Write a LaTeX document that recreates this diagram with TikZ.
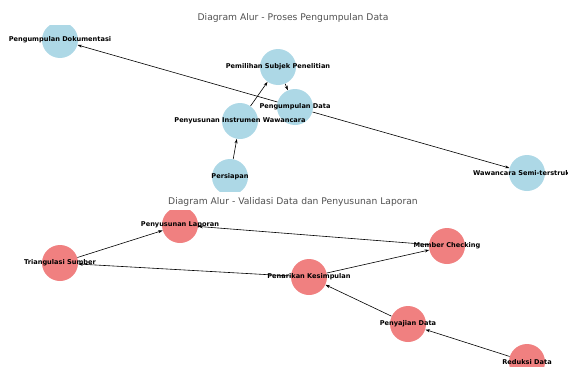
\documentclass[tikz,border=0pt]{standalone}
\usepackage{fontspec}
\setmainfont{DejaVu Sans}
\usetikzlibrary{arrows.meta}
\definecolor{lblue}{RGB}{173,216,230}
\definecolor{lcoral}{RGB}{240,128,128}
\definecolor{titlegray}{RGB}{80,80,80}
\pgfdeclarelayer{bg}
\pgfsetlayers{bg,main}

\begin{document}
\begin{tikzpicture}[x=1pt, y=-1pt,
    vtx/.style={circle, inner sep=0pt, minimum size=36pt,
        label={[font=\fontsize{6.6}{7}\selectfont\bfseries, text=black]center:#1}},
    bnode/.style={vtx=#1, fill=lblue},
    rnode/.style={vtx=#1, fill=lcoral},
    flow/.style={-{Stealth[length=4.5pt, width=3pt]}, line width=0.6pt, black},
    heading/.style={font=\fontsize{9.2}{11}\selectfont, text=titlegray}]
    \useasboundingbox (0,0) rectangle (568,367);

    % proses pengumpulan data
    \node[heading] (t1) at (293,18) {Diagram Alur - Proses Pengumpulan Data};
    \begin{scope}
        \clip (0,25) rectangle (568,191);
        \node[bnode={Pengumpulan Dokumentasi}] (dok) at (60,40) {};
        \node[bnode={Pemilihan Subjek Penelitian}] (subjek) at (278,67) {};
        \node[bnode={Pengumpulan Data}] (kumpul) at (295,107) {};
        \node[bnode={Penyusunan Instrumen Wawancara}] (instrumen) at (240,121) {};
        \node[bnode={Persiapan}] (siap) at (230,177) {};
        \node[bnode={Wawancara Semi-terstruktur}] (wawancara) at (527,173) {};
    \end{scope}

    % validasi data dan penyusunan laporan
    \node[heading] (t2) at (293,202) {Diagram Alur - Validasi Data dan Penyusunan Laporan};
    \begin{scope}
        \clip (0,210) rectangle (568,367);
        \node[rnode={Penyusunan Laporan}] (laporan) at (180,225) {};
        \node[rnode={Triangulasi Sumber}] (triangulasi) at (60,263) {};
        \node[rnode={Penarikan Kesimpulan}] (tarik) at (309,277) {};
        \node[rnode={Member Checking}] (member) at (447,246) {};
        \node[rnode={Penyajian Data}] (saji) at (408,324) {};
        \node[rnode={Reduksi Data}] (reduksi) at (527,362) {};
    \end{scope}

    \begin{pgfonlayer}{bg}
        \draw[flow] (siap) -- (instrumen);
        \draw[flow] (instrumen) -- (subjek);
        \draw[flow] (subjek) -- (kumpul);
        \draw[flow] (kumpul) -- (wawancara);
        \draw[flow] (kumpul) -- (dok);

        \draw[flow] (reduksi) -- (saji);
        \draw[flow] (saji) -- (tarik);
        \draw[flow] (tarik) -- (member);
        \draw[flow] (tarik) -- (triangulasi);
        \draw[flow] (triangulasi) -- (laporan);
        \draw[flow] (member) -- (laporan);
    \end{pgfonlayer}
\end{tikzpicture}
\end{document}
